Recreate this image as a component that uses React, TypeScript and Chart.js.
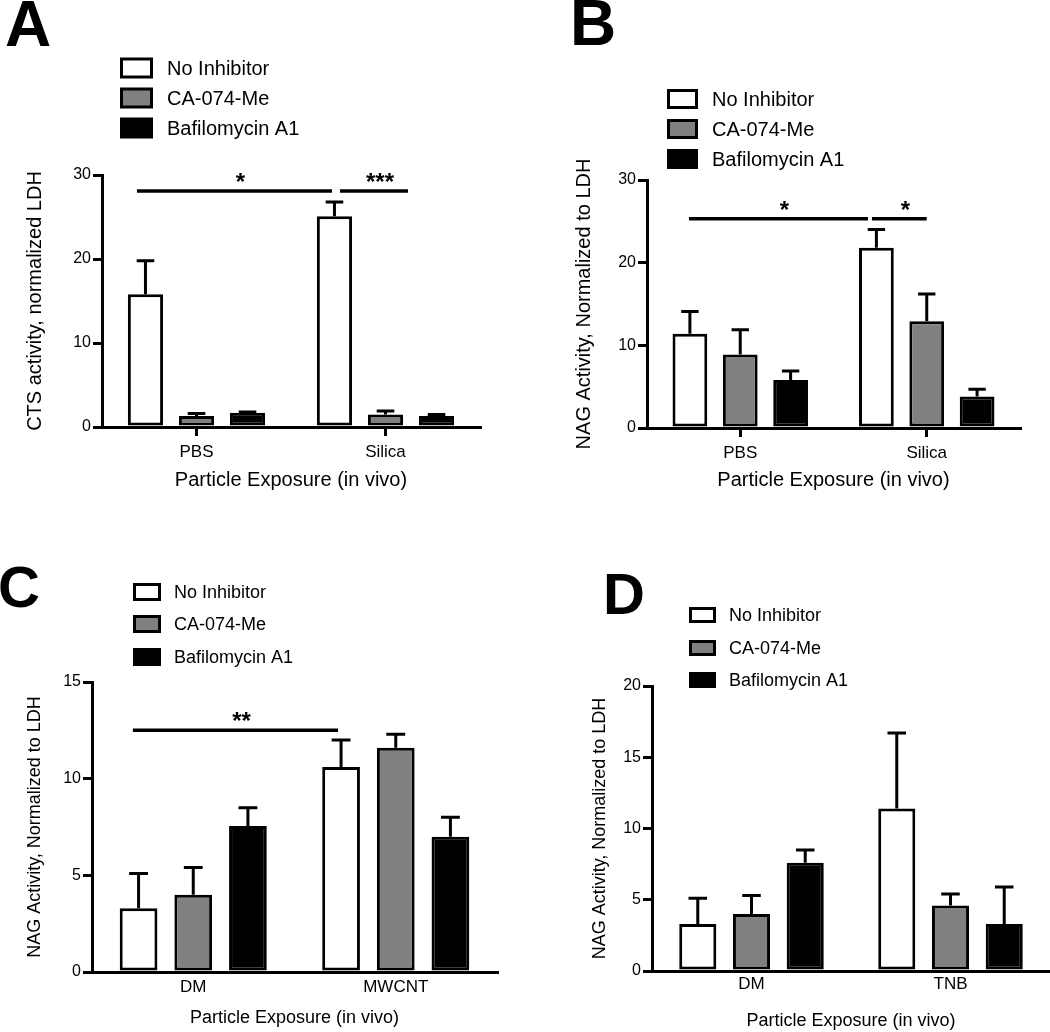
import React, { useEffect, useRef } from 'react';
import { Chart, registerables } from 'chart.js';

Chart.register(...registerables);

const FONT = "'Liberation Sans', Arial, sans-serif";

// ---- shared series ----
const seriesNames = ['No Inhibitor', 'CA-074-Me', 'Bafilomycin A1'];
const seriesFills = ['#ffffff', '#808080', '#000000'];
const xAxisTitle = 'Particle Exposure (in vivo)';

// ---- Panel A ----
const aCategories = ['PBS', 'Silica'];
const aNoInhibitor = [15.8, 25.1];
const aNoInhibitorErr = [4.0, 1.7];
const aCA074Me = [1.3, 1.5];
const aCA074MeErr = [0.3, 0.4];
const aBafilomycin = [1.7, 1.3];
const aBafilomycinErr = [0.1, 0.2];
const aYTitle = 'CTS activity, normalized LDH';
const aYMax = 30;
const aYStep = 10;
const aSigLabels = ['*', '***'];
const aSigLevels = [28.1, 28.1];
const aSigFrom = [[0, -0.315], [1, -0.241]];
const aSigTo = [[1, -0.283], [1, 0.119]];

// ---- Panel B ----
const bCategories = ['PBS', 'Silica'];
const bNoInhibitor = [11.4, 21.8];
const bNoInhibitorErr = [2.7, 2.2];
const bCA074Me = [8.9, 12.9];
const bCA074MeErr = [3.0, 3.3];
const bBafilomycin = [5.8, 3.8];
const bBafilomycinErr = [1.1, 0.9];
const bYTitle = 'NAG Activity, Normalized to LDH';
const bYMax = 30;
const bYStep = 10;
const bSigLabels = ['*', '*'];
const bSigLevels = [25.3, 25.3];
const bSigFrom = [[0, -0.275], [1, -0.294]];
const bSigTo = [[1, -0.315], [1, 0.0]];

// ---- Panel C ----
const cCategories = ['DM', 'MWCNT'];
const cNoInhibitor = [3.3, 10.6];
const cNoInhibitorErr = [1.8, 1.4];
const cCA074Me = [4.0, 11.6];
const cCA074MeErr = [1.4, 0.7];
const cBafilomycin = [7.55, 7.0];
const cBafilomycinErr = [0.95, 1.0];
const cYTitle = 'NAG Activity, Normalized to LDH';
const cYMax = 15;
const cYStep = 5;
const cSigLabels = ['**'];
const cSigLevels = [12.5];
const cSigFrom = [[0, -0.298]];
const cSigTo = [[1, -0.285]];

// ---- Panel D ----
const dCategories = ['DM', 'TNB'];
const dNoInhibitor = [3.3, 11.4];
const dNoInhibitorErr = [1.8, 5.3];
const dCA074Me = [4.0, 4.6];
const dCA074MeErr = [1.3, 0.8];
const dBafilomycin = [7.6, 3.3];
const dBafilomycinErr = [0.9, 2.6];
const dYTitle = 'NAG Activity, Normalized to LDH';
const dYMax = 20;
const dYStep = 5;
const dSigLabels: string[] = [];
const dSigLevels: number[] = [];
const dSigFrom: number[][] = [];
const dSigTo: number[][] = [];

const W = 525;
const H = 516;

const panels = [
  {
    key: 'A', letter: 'A', left: 0, top: 0,
    categories: aCategories,
    values: [aNoInhibitor, aCA074Me, aBafilomycin],
    errors: [aNoInhibitorErr, aCA074MeErr, aBafilomycinErr],
    yTitle: aYTitle, yMax: aYMax, yStep: aYStep,
    sig: { labels: aSigLabels, levels: aSigLevels, from: aSigFrom, to: aSigTo },
    layout: { padL: 23, padT: 175, padR: 45, yW: 79, xH: 89, xTitlePadB: 24, xLabelPad: 6, xTicks: true, titleSize: 20 },
    legend: { boxX: 120, boxW: 33, boxH: 21, rows: [68, 98, 128], textX: 167, size: 20 },
    letterPos: { x: 5, y: 46, size: 64 },
  },
  {
    key: 'B', letter: 'B', left: 525, top: 0,
    categories: bCategories,
    values: [bNoInhibitor, bCA074Me, bBafilomycin],
    errors: [bNoInhibitorErr, bCA074MeErr, bBafilomycinErr],
    yTitle: bYTitle, yMax: bYMax, yStep: bYStep,
    sig: { labels: bSigLabels, levels: bSigLevels, from: bSigFrom, to: bSigTo },
    layout: { padL: 47, padT: 180, padR: 30, yW: 75, xH: 88, xTitlePadB: 24, xLabelPad: 6, xTicks: true, titleSize: 20 },
    legend: { boxX: 142, boxW: 31, boxH: 20, rows: [99, 129, 159], textX: 187, size: 20 },
    letterPos: { x: 45, y: 45, size: 64 },
  },
  {
    key: 'C', letter: 'C', left: 0, top: 516,
    categories: cCategories,
    values: [cNoInhibitor, cCA074Me, cBafilomycin],
    errors: [cNoInhibitorErr, cCA074MeErr, cBafilomycinErr],
    yTitle: cYTitle, yMax: cYMax, yStep: cYStep,
    sig: { labels: cSigLabels, levels: cSigLevels, from: cSigFrom, to: cSigTo },
    layout: { padL: 24, padT: 166, padR: 28, yW: 68, xH: 60, xTitlePadB: 3, xLabelPad: 5, xTicks: false, titleSize: 18 },
    legend: { boxX: 133, boxW: 28, boxH: 18, rows: [76, 108, 141], textX: 174, size: 18 },
    letterPos: { x: -2, y: 91, size: 58 },
  },
  {
    key: 'D', letter: 'D', left: 525, top: 516,
    categories: dCategories,
    values: [dNoInhibitor, dCA074Me, dBafilomycin],
    errors: [dNoInhibitorErr, dCA074MeErr, dBafilomycinErr],
    yTitle: dYTitle, yMax: dYMax, yStep: dYStep,
    sig: { labels: dSigLabels, levels: dSigLevels, from: dSigFrom, to: dSigTo },
    layout: { padL: 64, padT: 170, padR: 0, yW: 63, xH: 61, xTitlePadB: 0, xLabelPad: 3, xTicks: false, titleSize: 18 },
    legend: { boxX: 164, boxW: 27, boxH: 16, rows: [99, 132, 164], textX: 204, size: 18 },
    letterPos: { x: 78, y: 98, size: 58 },
  },
];

function makeExtras(p: any) {
  return {
    id: 'extras' + p.key,
    afterDatasetsDraw(chart: any) {
      const ctx = chart.ctx;
      const ys = chart.scales.y;
      ctx.save();
      ctx.strokeStyle = '#000';
      ctx.lineWidth = 3;
      ctx.lineCap = 'butt';
      chart.data.datasets.forEach((ds: any, di: number) => {
        const meta = chart.getDatasetMeta(di);
        meta.data.forEach((bar: any, i: number) => {
          const err = p.errors[di][i];
          const props = bar.getProps(['x', 'y', 'width'], true);
          const topPx = ys.getPixelForValue(ds.data[i] + err);
          const half = props.width * 0.25;
          ctx.beginPath();
          ctx.moveTo(props.x, props.y);
          ctx.lineTo(props.x, topPx);
          ctx.moveTo(props.x - half, topPx);
          ctx.lineTo(props.x + half, topPx);
          ctx.stroke();
        });
      });
      ctx.restore();
    },
    afterDraw(chart: any) {
      const ctx = chart.ctx;
      const xs = chart.scales.x;
      const ys = chart.scales.y;
      const catW = (xs.right - xs.left) / p.categories.length;
      ctx.save();
      // significance bars
      p.sig.labels.forEach((lab: string, k: number) => {
        const x0 = xs.getPixelForValue(p.sig.from[k][0]) + p.sig.from[k][1] * catW;
        const x1 = xs.getPixelForValue(p.sig.to[k][0]) + p.sig.to[k][1] * catW;
        const yy = ys.getPixelForValue(p.sig.levels[k]);
        ctx.strokeStyle = '#000';
        ctx.lineWidth = 3.5;
        ctx.beginPath();
        ctx.moveTo(x0, yy);
        ctx.lineTo(x1, yy);
        ctx.stroke();
        ctx.fillStyle = '#000';
        ctx.font = `bold 24px ${FONT}`;
        ctx.textAlign = 'center';
        ctx.textBaseline = 'alphabetic';
        ctx.fillText(lab, (x0 + x1) / 2 + 6, yy - 1);
      });
      // legend
      const lg = p.legend;
      seriesNames.forEach((name, k) => {
        const cy = lg.rows[k];
        const bx = lg.boxX, by = cy - lg.boxH / 2;
        ctx.fillStyle = '#000';
        ctx.fillRect(bx, by, lg.boxW, lg.boxH);
        if (seriesFills[k] !== '#000000') {
          ctx.fillStyle = seriesFills[k];
          ctx.fillRect(bx + 3, by + 3, lg.boxW - 6, lg.boxH - 6);
        }
        ctx.fillStyle = '#000';
        ctx.font = `${lg.size}px ${FONT}`;
        ctx.textAlign = 'left';
        ctx.textBaseline = 'middle';
        ctx.fillText(name, lg.textX, cy + 1);
      });
      // panel letter
      ctx.font = `bold ${p.letterPos.size}px ${FONT}`;
      ctx.textAlign = 'left';
      ctx.textBaseline = 'alphabetic';
      ctx.fillStyle = '#000';
      ctx.fillText(p.letter, p.letterPos.x, p.letterPos.y);
      ctx.restore();
    },
  };
}

function Panel({ p }: { p: any }) {
  const ref = useRef<HTMLCanvasElement | null>(null);
  useEffect(() => {
    if (!ref.current) return;
    const L = p.layout;
    const chart = new Chart(ref.current, {
      type: 'bar',
      data: {
        labels: p.categories,
        datasets: seriesNames.map((name, k) => ({
          label: name,
          data: p.values[k],
          backgroundColor: seriesFills[k],
          borderColor: '#000',
          borderWidth: 3,
          borderSkipped: false,
          barPercentage: 0.69,
          categoryPercentage: 0.81,
        })),
      },
      options: {
        responsive: false,
        animation: false,
        devicePixelRatio: 1,
        layout: { padding: { left: L.padL, top: L.padT, right: L.padR, bottom: 0 } },
        plugins: { legend: { display: false }, tooltip: { enabled: false }, title: { display: false } },
        scales: {
          x: {
            type: 'category',
            offset: true,
            grid: {
              display: L.xTicks,
              offset: false,
              drawOnChartArea: false,
              drawTicks: L.xTicks,
              tickLength: 9,
              lineWidth: 3,
              color: '#000',
            },
            border: { display: true, color: '#000', width: 3 },
            ticks: {
              color: '#000',
              font: { size: 17, family: FONT },
              padding: L.xLabelPad,
              maxRotation: 0,
              autoSkip: false,
            },
            title: {
              display: true,
              text: xAxisTitle,
              color: '#000',
              font: { size: L.titleSize, family: FONT },
              padding: { top: 0, bottom: L.xTitlePadB },
            },
            afterFit: (s: any) => { s.height = L.xH; },
          },
          y: {
            min: 0,
            max: p.yMax,
            ticks: {
              stepSize: p.yStep,
              color: '#000',
              font: { size: 16, family: FONT },
              padding: 2,
            },
            grid: {
              display: true,
              drawOnChartArea: false,
              drawTicks: true,
              tickLength: 9,
              lineWidth: 3,
              color: '#000',
            },
            border: { display: true, color: '#000', width: 3 },
            title: {
              display: true,
              text: p.yTitle,
              color: '#000',
              font: { size: L.titleSize, family: FONT },
              padding: { top: 0, bottom: 0 },
            },
            afterFit: (s: any) => { s.width = L.yW; },
          },
        },
      },
      plugins: [makeExtras(p)],
    } as any);
    return () => chart.destroy();
  }, [p]);
  return (
    <canvas
      ref={ref}
      width={W}
      height={H}
      style={{ position: 'absolute', left: p.left, top: p.top, width: W, height: H }}
    />
  );
}

export default function App() {
  return (
    <div style={{ position: 'absolute', left: 0, top: 0, width: 1050, height: 1032, background: '#fff', overflow: 'hidden' }}>
      {panels.map((p) => (
        <Panel key={p.key} p={p} />
      ))}
    </div>
  );
}
